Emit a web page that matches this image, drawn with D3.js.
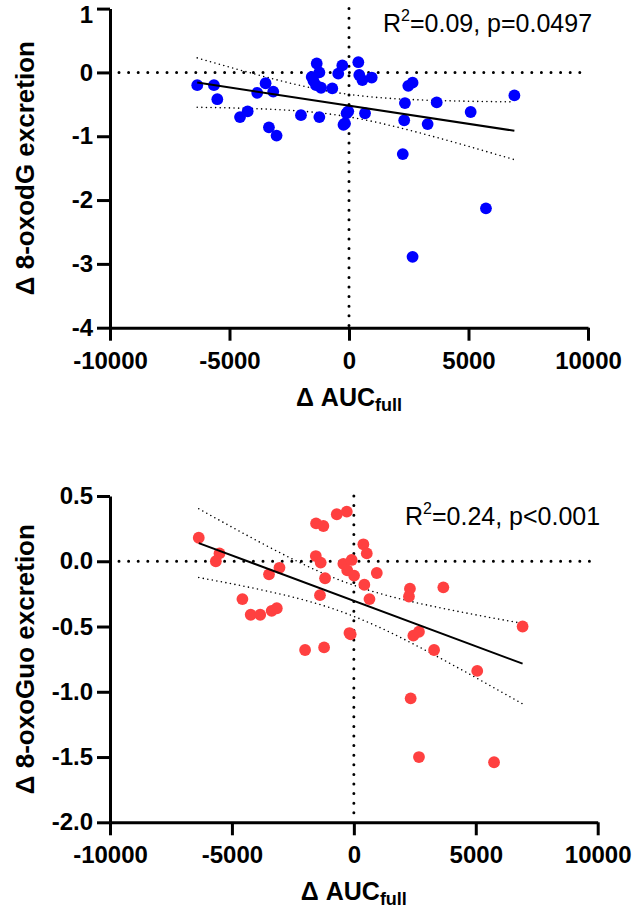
<!DOCTYPE html>
<html>
<head>
<meta charset="utf-8">
<script src="https://cdn.jsdelivr.net/npm/d3@7"></script>
<style>
  body { margin: 0; background: #fff; }
  text { font-family: "Liberation Sans", Arial, sans-serif; }
</style>
</head>
<body>
<div id="container"></div>
<script>
// ΔAUCfull vs Δ 8-oxodG excretion
const aucA = [-6350, -5650, -5510, -4560, -4240, -3840, -3490, -3170, -3350, -3030, -2010, -1240, -1350, -1240, -1560, -1490, -1380, -1170, -700, -450, -280, 390, 430, 560, -100, -30, -170, -230, 670, 950, 2480, 2660, 2340, 3670, 2310, 3290, 5090, 6920, 2250, 5730, 2660];
const oxodG = [-0.20, -0.20, -0.42, -0.70, -0.61, -0.32, -0.17, -0.30, -0.86, -0.99, -0.67, -0.70, 0.14, 0.00, -0.07, -0.13, -0.20, -0.24, -0.25, -0.02, 0.11, 0.16, -0.04, -0.12, -0.64, -0.61, -0.80, -0.82, -0.64, -0.08, -0.21, -0.16, -0.48, -0.47, -0.75, -0.81, -0.62, -0.36, -1.28, -2.13, -2.89];

// ΔAUCfull vs Δ 8-oxoGuo excretion
const aucB = [-6360, -5510, -5660, -4570, -4230, -3840, -3370, -3160, -3480, -3050, -1550, -1250, -700, -290, -1560, -1360, -1180, -1390, -430, -270, 10, -90, 390, 530, 430, 640, -180, -130, -2000, -1220, 940, 2300, 2260, 3670, 6920, 2440, 2670, 3290, 5060, 2330, 2670, 5750];
const oxoGuo = [0.18, 0.06, 0.00, -0.29, -0.41, -0.41, -0.38, -0.36, -0.10, -0.05, 0.29, 0.27, 0.36, 0.38, 0.04, -0.01, -0.13, -0.26, -0.02, -0.07, -0.11, 0.01, 0.13, 0.06, -0.18, -0.29, -0.55, -0.56, -0.68, -0.66, -0.09, -0.21, -0.27, -0.20, -0.50, -0.57, -0.54, -0.68, -0.84, -1.05, -1.50, -1.54];

const xTicks = [-10000, -5000, 0, 5000, 10000];
const yTicksA = [1, 0, -1, -2, -3, -4];
const yTicksB = [0.5, 0.0, -0.5, -1.0, -1.5, -2.0];

const svg = d3.select("#container").append("svg")
    .attr("width", 632)
    .attr("height", 908);

function fit(xs, ys) {
    const n = xs.length;
    const mx = d3.mean(xs), my = d3.mean(ys);
    let sxx = 0, sxy = 0;
    xs.forEach(function(x, i) {
        sxx += (x - mx) * (x - mx);
        sxy += (x - mx) * (ys[i] - my);
    });
    const b = sxy / sxx, a = my - b * mx;
    let sse = 0;
    xs.forEach(function(x, i) {
        const r = ys[i] - (a + b * x);
        sse += r * r;
    });
    const s = Math.sqrt(sse / (n - 2));
    const t = 2.02; // ~t(0.975, n-2)
    return {
        y: function(x) { return a + b * x; },
        ci: function(x) { return t * s * Math.sqrt(1 / n + (x - mx) * (x - mx) / sxx); }
    };
}

function panel(opt) {
    const g = svg.append("g");
    const x = d3.scaleLinear().domain([-10000, 10000]).range([opt.left, opt.right]);
    const y = d3.scaleLinear().domain(opt.yDomain).range([opt.bottom, opt.top]);

    // dotted zero lines
    g.append("line")
        .attr("x1", x(-10000) + 9).attr("x2", x(10000))
        .attr("y1", y(0)).attr("y2", y(0))
        .attr("stroke", "#000").attr("stroke-width", 3)
        .attr("stroke-linecap", "round").attr("stroke-dasharray", "0 9.6");
    g.append("line")
        .attr("x1", x(0)).attr("x2", x(0))
        .attr("y1", y(opt.yDomain[1])).attr("y2", y(opt.yDomain[0]))
        .attr("stroke", "#000").attr("stroke-width", 3)
        .attr("stroke-linecap", "round").attr("stroke-dasharray", "0 9.6");

    // regression + 95% band
    const f = fit(opt.xs, opt.ys);
    const x0 = d3.min(opt.xs), x1 = d3.max(opt.xs);
    const xr = d3.range(0, 41).map(function(i) { return x0 + i * (x1 - x0) / 40; });
    const line = d3.line().x(function(d) { return x(d[0]); }).y(function(d) { return y(d[1]); });
    [1, -1].forEach(function(sg) {
        g.append("path")
            .attr("d", line(xr.map(function(v) { return [v, f.y(v) + sg * f.ci(v)]; })))
            .attr("fill", "none").attr("stroke", "#000").attr("stroke-width", 1.6)
            .attr("stroke-linecap", "round").attr("stroke-dasharray", "0 4.6");
    });

    g.selectAll(".dot")
        .data(opt.xs)
        .enter()
        .append("circle")
        .attr("class", "dot")
        .attr("cx", function(d) { return x(d); })
        .attr("cy", function(d, i) { return y(opt.ys[i]); })
        .attr("r", 5.9)
        .attr("fill", opt.color);

    g.append("path")
        .attr("d", line([[x0, f.y(x0)], [x1, f.y(x1)]]))
        .attr("stroke", "#000").attr("stroke-width", 2);

    // axes
    const xAxis = g.append("g")
        .attr("transform", "translate(0," + opt.bottom + ")")
        .call(d3.axisBottom(x).tickValues(xTicks).tickFormat(d3.format("d"))
            .tickSize(13).tickSizeOuter(0).tickPadding(11));
    const yAxis = g.append("g")
        .attr("transform", "translate(" + opt.left + ",0)")
        .call(d3.axisLeft(y).tickValues(opt.yTicks).tickFormat(opt.fmt)
            .tickSize(13).tickSizeOuter(0).tickPadding(4));
    [xAxis, yAxis].forEach(function(a) {
        a.selectAll("path, line").attr("stroke", "#000").attr("stroke-width", 3);
        a.selectAll("text")
            .attr("fill", "#000")
            .style("font-size", "24px")
            .style("font-weight", "bold")
            .text(function() { return this.textContent.replace("\u2212", "-"); });
    });
    yAxis.select(".tick text").attr("dy", opt.firstDy || "0.32em");

    // titles
    const xt = g.append("text")
        .attr("x", x(0)).attr("y", opt.bottom + 78)
        .attr("text-anchor", "middle")
        .style("font-size", "25px").style("font-weight", "bold");
    xt.append("tspan").text("\u0394 AUC");
    xt.append("tspan").text("full").style("font-size", "18px").attr("dy", 5);

    g.append("text")
        .attr("transform", "translate(34," + (opt.top + opt.bottom) / 2 + ") rotate(-90)")
        .attr("text-anchor", "middle")
        .style("font-size", "26px").style("font-weight", "bold")
        .text(opt.yTitle);

    const st = g.append("text")
        .attr("x", opt.statX).attr("y", opt.statY)
        .style("font-size", "25px");
    st.append("tspan").text("R");
    st.append("tspan").text("2").style("font-size", "16px").attr("dy", -11);
    st.append("tspan").text(opt.stat).attr("dy", 11);
}

panel({
    xs: aucA, ys: oxodG, color: "#0000ff",
    left: 110, right: 588, top: 8.6, bottom: 327.7,
    yDomain: [-4, 1], yTicks: yTicksA, fmt: d3.format("d"),
    yTitle: "\u0394 8-oxodG excretion",
    stat: "=0.09, p=0.0497", statX: 383, statY: 32,
    firstDy: "0.58em"
});

panel({
    xs: aucB, ys: oxoGuo, color: "#ff4040",
    left: 110, right: 597.7, top: 496, bottom: 822.3,
    yDomain: [-2, 0.5], yTicks: yTicksB, fmt: d3.format(".1f"),
    yTitle: "\u0394 8-oxoGuo excretion",
    stat: "=0.24, p<0.001", statX: 405, statY: 525
});
</script>
</body>
</html>
